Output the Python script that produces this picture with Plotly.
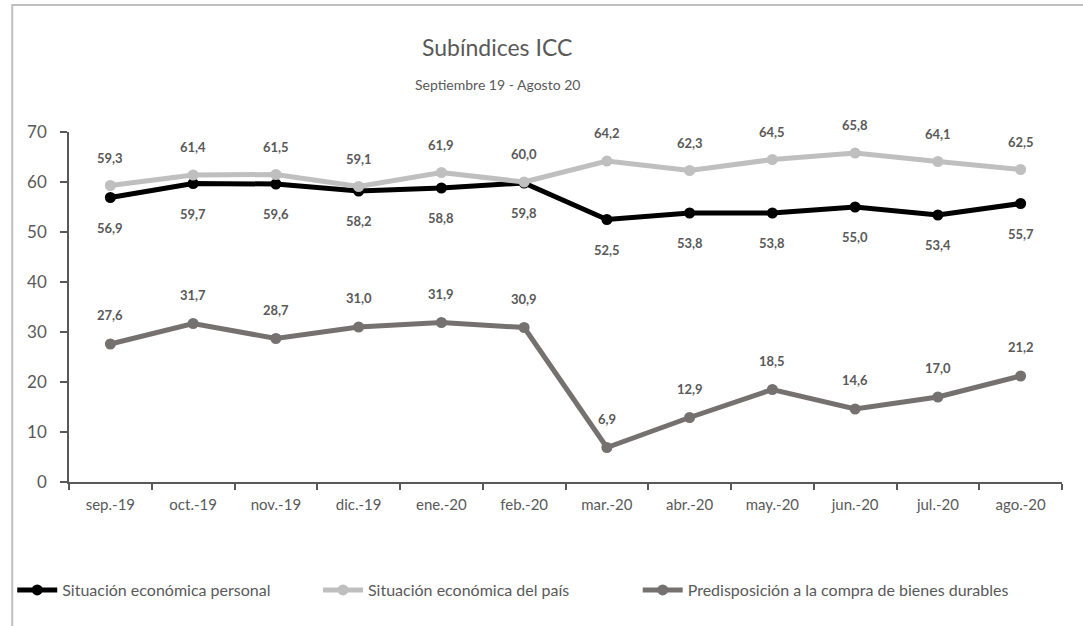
import plotly.graph_objects as go

# Monthly sub-indices of the consumer confidence index (ICC)
months = ["sep.-19", "oct.-19", "nov.-19", "dic.-19", "ene.-20", "feb.-20",
          "mar.-20", "abr.-20", "may.-20", "jun.-20", "jul.-20", "ago.-20"]
personal = [56.9, 59.7, 59.6, 58.2, 58.8, 59.8, 52.5, 53.8, 53.8, 55.0, 53.4, 55.7]
pais = [59.3, 61.4, 61.5, 59.1, 61.9, 60.0, 64.2, 62.3, 64.5, 65.8, 64.1, 62.5]
durables = [27.6, 31.7, 28.7, 31.0, 31.9, 30.9, 6.9, 12.9, 18.5, 14.6, 17.0, 21.2]

names = ["Situación económica personal",
         "Situación económica del país",
         "Predisposición a la compra de bienes durables"]

FONT = "Lato"
TXT = "#595959"

# plot area in pixels
W, H = 1083, 626
L, R, T, B = 65, 21, 132, 144
pw, ph = W - L - R, H - T - B

def px_x(p):
    return (p - L) / pw

def px_y(p):
    return (H - B - p) / ph

# values, name, colour, label offset (px, + = below), legend id, legend left edge (px)
series = [
    (personal, names[0], "#000000", 30, "legend", 8),
    (pais, names[1], "#BFBFBF", -28, "legend2", 315),
    (durables, names[2], "#767171", -29, "legend3", 636),
]

fig = go.Figure()
for vals, name, color, _, leg, _ in series:
    fig.add_trace(go.Scatter(
        x=months, y=vals, name=name, mode="lines+markers",
        line=dict(color=color, width=5),
        marker=dict(color=color, size=11),
        legend=leg,
    ))

annotations = []
for vals, name, color, shift, _, _ in series:
    for m, v in zip(months, vals):
        annotations.append(dict(
            x=m, y=v, xref="x", yref="y",
            text=f"{v:.1f}".replace(".", ","),
            showarrow=False, yshift=-shift,
            xanchor="center", yanchor="middle",
            font=dict(family=FONT, size=13, color=TXT, weight="bold"),
        ))

annotations.append(dict(
    x=px_x(495), y=px_y(47), xref="paper", yref="paper",
    xanchor="center", yanchor="middle",
    text="Subíndices ICC", showarrow=False,
    font=dict(family=FONT, size=23, color=TXT),
))
annotations.append(dict(
    x=px_x(495), y=px_y(85), xref="paper", yref="paper",
    xanchor="center", yanchor="middle",
    text="Septiembre 19 - Agosto 20", showarrow=False,
    font=dict(family=FONT, size=14, color=TXT),
))

# chart-area frame: left and top edges
shapes = [dict(
    type="path", xref="paper", yref="paper",
    path=f"M {px_x(8)},{px_y(H + 2)} L {px_x(8)},{px_y(5)} L {px_x(W + 2)},{px_y(5)}",
    line=dict(color="#BFBFBF", width=2),
)]

legend_style = dict(
    orientation="h", y=px_y(590),
    xanchor="left", yanchor="middle",
    font=dict(family=FONT, size=16, color=TXT),
    itemwidth=40, bgcolor="rgba(0,0,0,0)",
)

fig.update_layout(
    width=W, height=H,
    margin=dict(l=L, r=R, t=T, b=B),
    paper_bgcolor="white", plot_bgcolor="white",
    font=dict(family=FONT, color=TXT),
    annotations=annotations,
    shapes=shapes,
    showlegend=True,
    legend=dict(legend_style, x=px_x(series[0][5])),
    legend2=dict(legend_style, x=px_x(series[1][5])),
    legend3=dict(legend_style, x=px_x(series[2][5])),
    xaxis=dict(
        type="category", range=[-0.5, 11.5],
        showline=True, linecolor="#595959", linewidth=1.5,
        ticks="outside", tickson="boundaries", ticklen=6,
        tickcolor="#595959", tickwidth=1.5,
        showgrid=False, zeroline=False,
        ticklabelstandoff=8,
        tickfont=dict(family=FONT, size=15, color=TXT),
    ),
    yaxis=dict(
        range=[0, 70], dtick=10,
        showline=True, linecolor="#595959", linewidth=1.5,
        ticks="outside", ticklen=7, tickcolor="#595959", tickwidth=1.5,
        showgrid=False, zeroline=False,
        ticklabelstandoff=10,
        tickfont=dict(family=FONT, size=17, color=TXT),
    ),
)

fig.write_html("out.html")
